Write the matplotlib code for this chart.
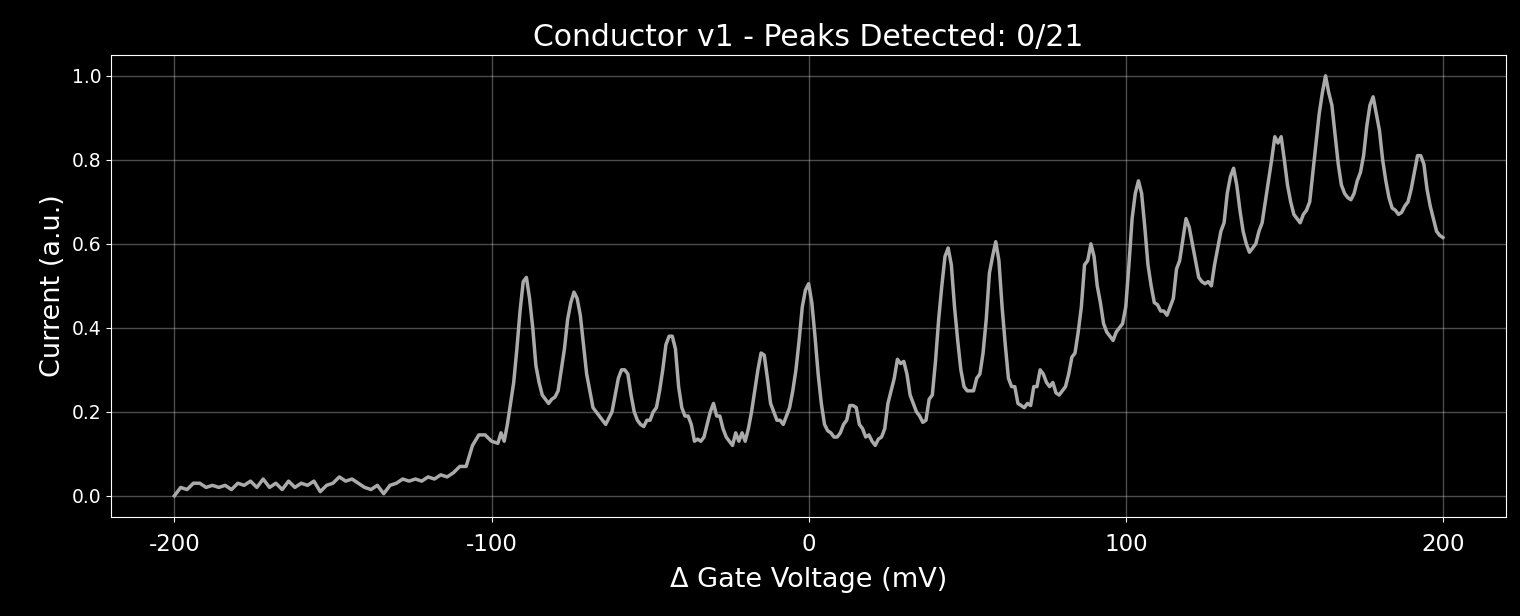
import numpy as np
import matplotlib.pyplot as plt

# gate voltage offsets (mV): coarse in the flat part, finer through the peaks
voltage = np.concatenate([np.arange(-200, -97, 2), np.arange(-97, 201, 1)])

current = [
    0.0, 0.02, 0.015, 0.03, 0.03, 0.02, 0.025, 0.02, 0.025, 0.015,
    0.03, 0.025, 0.035, 0.02, 0.04, 0.02, 0.03, 0.015, 0.035, 0.02,
    0.03, 0.025, 0.035, 0.01, 0.025, 0.03, 0.045, 0.035, 0.04, 0.03,
    0.02, 0.015, 0.025, 0.005, 0.025, 0.03, 0.04, 0.035, 0.04, 0.035,
    0.045, 0.04, 0.05, 0.045, 0.055, 0.07, 0.07, 0.12, 0.145, 0.145,
    0.13, 0.125,
    # -97 .. -1
    0.15, 0.13, 0.17, 0.22, 0.27, 0.35, 0.44, 0.51, 0.52, 0.47,
    0.4, 0.31, 0.27, 0.24, 0.23, 0.22, 0.23, 0.235, 0.25, 0.3,
    0.35, 0.42, 0.46, 0.485, 0.47, 0.43, 0.36, 0.29, 0.25, 0.21,
    0.2, 0.19, 0.18, 0.17, 0.185, 0.2, 0.24, 0.28, 0.3, 0.3,
    0.29, 0.24, 0.2, 0.18, 0.17, 0.165, 0.18, 0.18, 0.2, 0.21,
    0.25, 0.3, 0.36, 0.38, 0.38, 0.35, 0.26, 0.21, 0.19, 0.19,
    0.17, 0.13, 0.135, 0.13, 0.14, 0.17, 0.2, 0.22, 0.19, 0.19,
    0.16, 0.14, 0.13, 0.12, 0.15, 0.13, 0.15, 0.13, 0.16, 0.2,
    0.25, 0.3, 0.34, 0.335, 0.28, 0.22, 0.2, 0.18, 0.18, 0.17,
    0.19, 0.21, 0.25, 0.3, 0.37, 0.45, 0.49,
    # 0 .. 99
    0.505, 0.46, 0.38, 0.29, 0.22, 0.17, 0.155, 0.15, 0.14, 0.14,
    0.15, 0.17, 0.18, 0.215, 0.215, 0.21, 0.17, 0.16, 0.14, 0.145,
    0.13, 0.12, 0.135, 0.14, 0.16, 0.22, 0.25, 0.28, 0.325, 0.315,
    0.32, 0.29, 0.24, 0.22, 0.2, 0.19, 0.175, 0.18, 0.23, 0.24,
    0.32, 0.42, 0.5, 0.57, 0.59, 0.55, 0.45, 0.37, 0.3, 0.26,
    0.25, 0.25, 0.25, 0.28, 0.29, 0.34, 0.42, 0.53, 0.57, 0.605,
    0.56, 0.45, 0.36, 0.28, 0.26, 0.26, 0.22, 0.215, 0.21, 0.22,
    0.215, 0.26, 0.26, 0.3, 0.29, 0.27, 0.26, 0.27, 0.245, 0.24,
    0.25, 0.26, 0.29, 0.33, 0.34, 0.39, 0.45, 0.55, 0.56, 0.6,
    0.57, 0.5, 0.46, 0.41, 0.39, 0.38, 0.37, 0.39, 0.4, 0.41,
    # 100 .. 200
    0.45, 0.55, 0.66, 0.72, 0.75, 0.72, 0.64, 0.55, 0.5, 0.46,
    0.455, 0.44, 0.44, 0.43, 0.45, 0.47, 0.54, 0.56, 0.61, 0.66,
    0.64, 0.6, 0.56, 0.52, 0.51, 0.505, 0.51, 0.5, 0.55, 0.59,
    0.63, 0.65, 0.72, 0.76, 0.78, 0.74, 0.68, 0.63, 0.6, 0.58,
    0.59, 0.6, 0.63, 0.65, 0.7, 0.75, 0.8, 0.855, 0.84, 0.855,
    0.8, 0.74, 0.7, 0.67, 0.66, 0.65, 0.67, 0.68, 0.7, 0.77,
    0.84, 0.91, 0.96, 1.0, 0.96, 0.93, 0.86, 0.79, 0.74, 0.72,
    0.71, 0.705, 0.72, 0.75, 0.77, 0.81, 0.88, 0.93, 0.95, 0.91,
    0.87, 0.8, 0.75, 0.71, 0.685, 0.68, 0.67, 0.675, 0.69, 0.7,
    0.73, 0.77, 0.81, 0.81, 0.79, 0.73, 0.69, 0.66, 0.63, 0.62,
    0.615,
]

plt.style.use('dark_background')
plt.rcParams['axes.unicode_minus'] = False
fig = plt.figure(figsize=(15.2, 6.16), dpi=100)
ax = fig.add_axes([0.073, 0.161, 0.918, 0.750])

ax.plot(voltage, current, color='#aaaaaa', lw=2.5)

ax.set_xlim(-220, 220)
ax.set_ylim(-0.05, 1.05)
ax.set_xticks([-200, -100, 0, 100, 200])
ax.grid(True, color='white', alpha=0.3, lw=1)
ax.tick_params(axis='x', labelsize=16.5, pad=8)
ax.tick_params(axis='y', labelsize=13.5)
ax.set_xlabel('Δ Gate Voltage (mV)', fontsize=19.5, labelpad=8)
ax.set_ylabel('Current (a.u.)', fontsize=19.5)
ax.set_title('Conductor v1 - Peaks Detected: 0/21', fontsize=21.5)

fig.savefig('out.png', dpi=100)
